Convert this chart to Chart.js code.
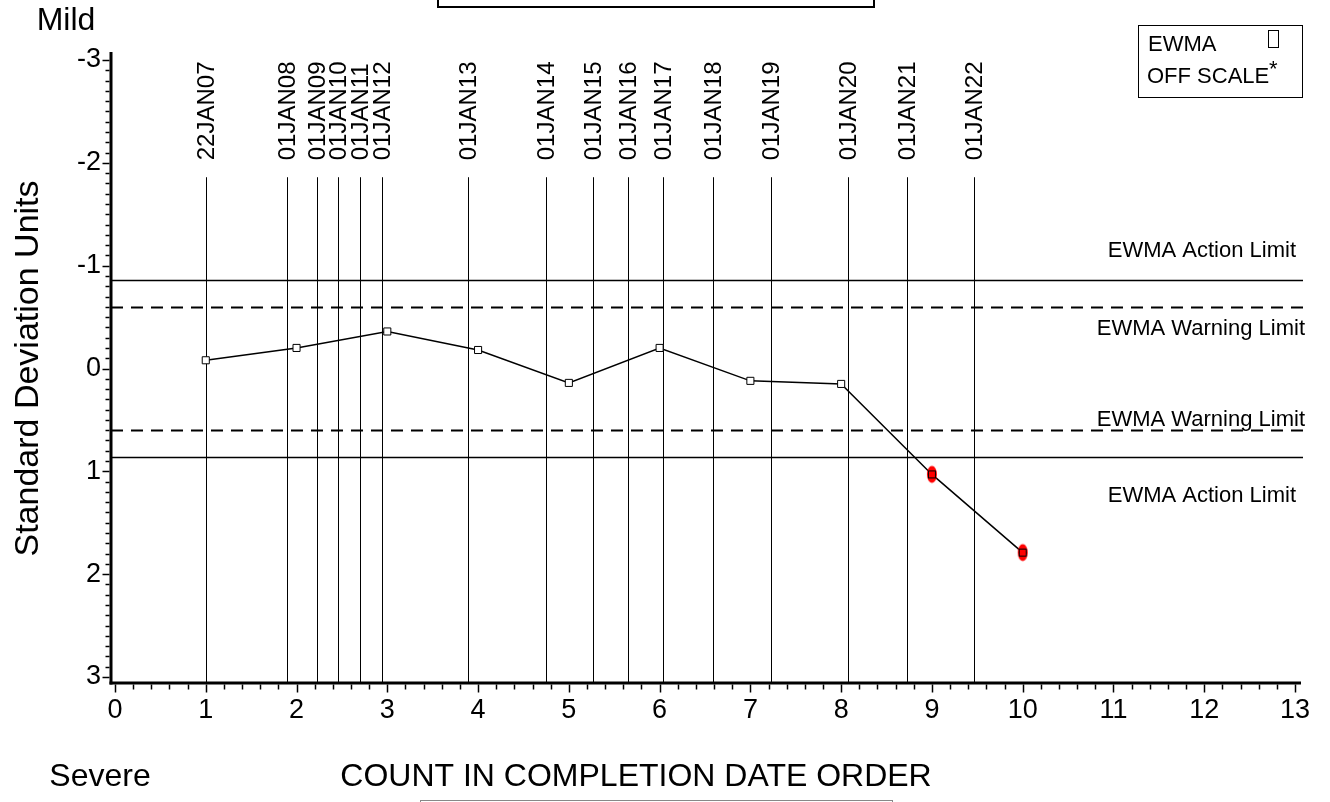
<!DOCTYPE html>
<html><head><meta charset="utf-8">
<script src="https://cdn.jsdelivr.net/npm/chart.js@4/dist/chart.umd.min.js"></script>
<style>html,body{margin:0;padding:0;background:#fff;}canvas{display:block}</style>
</head><body>
<canvas id="c" width="1330" height="802"></canvas>
<script>
// ---- data ----
const counts = [1, 2, 3, 4, 5, 6, 7, 8, 9, 10];
const ewmaValues = [-0.08, -0.20, -0.36, -0.18, 0.14, -0.20, 0.12, 0.15, 1.03, 1.79];
const dateLabels = ['22JAN07','01JAN08','01JAN09','01JAN10','01JAN11','01JAN12','01JAN13','01JAN14','01JAN15','01JAN16','01JAN17','01JAN18','01JAN19','01JAN20','01JAN21','01JAN22'];
const datePositions = [1.0, 1.89, 2.22, 2.46, 2.70, 2.94, 3.89, 4.75, 5.27, 5.65, 6.04, 6.59, 7.23, 8.08, 8.72, 9.46];
const actionLimits = [-0.86, 0.86];
const warningLimits = [-0.6, 0.6];
const xTickValues = [0,1,2,3,4,5,6,7,8,9,10,11,12,13];
const yTickValues = [-3,-2,-1,0,1,2,3];
const legendLabels = ['EWMA', 'OFF SCALE'];
const limitLabels = ['EWMA Action Limit', 'EWMA Warning Limit'];

const FONT = '"Liberation Sans", Arial, Helvetica, sans-serif';

// flagged marker: red ellipse with square
function flaggedMarker() {
  const c = document.createElement('canvas');
  c.width = 12; c.height = 20;
  const g = c.getContext('2d');
  g.fillStyle = '#ff0000';
  g.beginPath(); g.ellipse(6, 10, 5, 8.5, 0, 0, Math.PI * 2); g.fill();
  g.strokeStyle = '#000'; g.lineWidth = 1;
  g.strokeRect(2.5, 6.5, 7, 7);
  return c;
}
const flagImg = flaggedMarker();

const decor = {
  id: 'decor',
  beforeDatasetsDraw(chart) {
    const ctx = chart.ctx, xs = chart.scales.x, ys = chart.scales.y, ca = chart.chartArea;
    const axisY = ca.bottom + 6;
    ctx.save();
    // vertical date reference lines
    ctx.strokeStyle = '#000'; ctx.lineWidth = 1;
    const topY = ys.getPixelForValue(-1.86);
    datePositions.forEach((p, i) => {
      const x = Math.round(xs.getPixelForValue(p)) + 0.5;
      ctx.beginPath(); ctx.moveTo(x, topY); ctx.lineTo(x, axisY); ctx.stroke();
      ctx.save();
      ctx.translate(x + 1, topY - 17);
      ctx.rotate(-Math.PI / 2);
      ctx.font = '24px ' + FONT; ctx.fillStyle = '#000';
      ctx.textAlign = 'left'; ctx.textBaseline = 'middle';
      ctx.fillText(dateLabels[i], 0, 0);
      ctx.restore();
    });
    // limit lines
    const x0 = ca.left - 4, x1 = ca.right + 8;
    actionLimits.forEach(v => {
      const y = Math.round(ys.getPixelForValue(v)) + 0.5;
      ctx.setLineDash([]); ctx.lineWidth = 1.5;
      ctx.beginPath(); ctx.moveTo(x0, y); ctx.lineTo(x1, y); ctx.stroke();
    });
    warningLimits.forEach(v => {
      const y = Math.round(ys.getPixelForValue(v)) + 0.5;
      ctx.setLineDash([12, 8]); ctx.lineWidth = 2;
      ctx.beginPath(); ctx.moveTo(x0, y); ctx.lineTo(x1, y); ctx.stroke();
    });
    ctx.setLineDash([]);
    ctx.restore();
  },
  afterDraw(chart) {
    const ctx = chart.ctx, xs = chart.scales.x, ys = chart.scales.y, ca = chart.chartArea;
    ctx.save();
    ctx.fillStyle = '#000'; ctx.strokeStyle = '#000';
    // axes
    const axX = ca.left - 4, axY = ca.bottom + 6;
    ctx.lineWidth = 3;
    ctx.beginPath(); ctx.moveTo(axX, ca.top - 8); ctx.lineTo(axX, axY + 1.5); ctx.stroke();
    ctx.beginPath(); ctx.moveTo(axX - 1.5, axY); ctx.lineTo(ca.right + 6, axY); ctx.stroke();
    ctx.lineWidth = 1.5;
    // y ticks
    for (let k = -30; k <= 30; k++) {
      const v = k / 10, y = Math.round(ys.getPixelForValue(v)) + 0.5;
      const len = (k % 10 === 0) ? 7 : 4;
      ctx.beginPath(); ctx.moveTo(axX - 1.5, y); ctx.lineTo(axX - 1.5 - len, y); ctx.stroke();
    }
    // x ticks
    for (let k = 0; k <= 65; k++) {
      const v = k / 5, x = Math.round(xs.getPixelForValue(v)) + 0.5;
      const len = (k % 5 === 0) ? 8 : 5;
      ctx.beginPath(); ctx.moveTo(x, axY + 1.5); ctx.lineTo(x, axY + 1.5 + len); ctx.stroke();
    }
    // limit labels
    ctx.font = '22px ' + FONT; ctx.textAlign = 'right'; ctx.textBaseline = 'middle';
    const ya1 = ys.getPixelForValue(actionLimits[0]), ya2 = ys.getPixelForValue(actionLimits[1]);
    const yw1 = ys.getPixelForValue(warningLimits[0]), yw2 = ys.getPixelForValue(warningLimits[1]);
    ctx.fillText(limitLabels[0], ca.right + 1, ya1 - 29);
    ctx.fillText(limitLabels[1], ca.right + 10, yw1 + 22);
    ctx.fillText(limitLabels[1], ca.right + 10, yw2 - 10);
    ctx.fillText(limitLabels[0], ca.right + 1, ya2 + 39);
    // Mild / Severe, x title
    ctx.font = '32px ' + FONT; ctx.textAlign = 'center';
    ctx.fillText('Mild', 66, 21);
    ctx.fillText('Severe', 100, 777);
    ctx.fillText('COUNT IN COMPLETION DATE ORDER', 636, 777);
    // legend box
    ctx.lineWidth = 1;
    ctx.strokeRect(1138.5, 25.5, 164, 72);
    ctx.font = '22px ' + FONT; ctx.textAlign = 'left';
    ctx.fillText(legendLabels[0], 1148, 45);
    ctx.fillText(legendLabels[1], 1147, 77);
    ctx.strokeRect(1268.5, 30.5, 10, 17);
    ctx.fillText('*', 1269, 70);
    // top and bottom boxes
    ctx.lineWidth = 2;
    ctx.strokeRect(438, -10, 436, 17);
    ctx.strokeStyle = '#888'; ctx.lineWidth = 1;
    ctx.strokeRect(420.5, 800.5, 472, 10);
    ctx.restore();
  }
};

new Chart(document.getElementById('c'), {
  type: 'scatter',
  data: {
    datasets: [{
      label: 'EWMA',
      data: counts.map((c, i) => ({ x: c, y: ewmaValues[i] })),
      showLine: true,
      borderColor: '#000',
      borderWidth: 1.5,
      backgroundColor: '#fff',
      pointBorderColor: '#000',
      pointBorderWidth: 1,
      pointStyle: (ctx) => Math.abs(ewmaValues[ctx.dataIndex]) > actionLimits[1] ? flagImg : 'rect',
      pointRadius: 5,
      pointHoverRadius: 5,
      tension: 0
    }]
  },
  options: {
    responsive: false,
    devicePixelRatio: 1,
    animation: false,
    events: [],
    layout: { padding: { top: 60, right: 35, left: 0, bottom: 0 } },
    plugins: { legend: { display: false }, tooltip: { enabled: false } },
    scales: {
      x: {
        type: 'linear', min: 0, max: 13,
        afterFit(s) { s.height = 125; },
        afterBuildTicks(s) { s.ticks = xTickValues.map(v => ({ value: v })); },
        grid: { display: false, drawTicks: false },
        border: { display: false },
        ticks: { color: '#000', padding: 17, font: { size: 27, family: FONT } }
      },
      y: {
        type: 'linear', min: -3, max: 3, reverse: true,
        afterFit(s) { s.width = 115; },
        afterBuildTicks(s) { s.ticks = yTickValues.map(v => ({ value: v })); },
        grid: { display: false, drawTicks: false },
        border: { display: false },
        ticks: { color: '#000', padding: 14, font: { size: 27, family: FONT } },
        title: { display: true, text: 'Standard Deviation Units', color: '#000', font: { size: 34, family: FONT }, padding: { top: 8, bottom: 0 } }
      }
    }
  },
  plugins: [decor]
});
</script>
</body></html>
